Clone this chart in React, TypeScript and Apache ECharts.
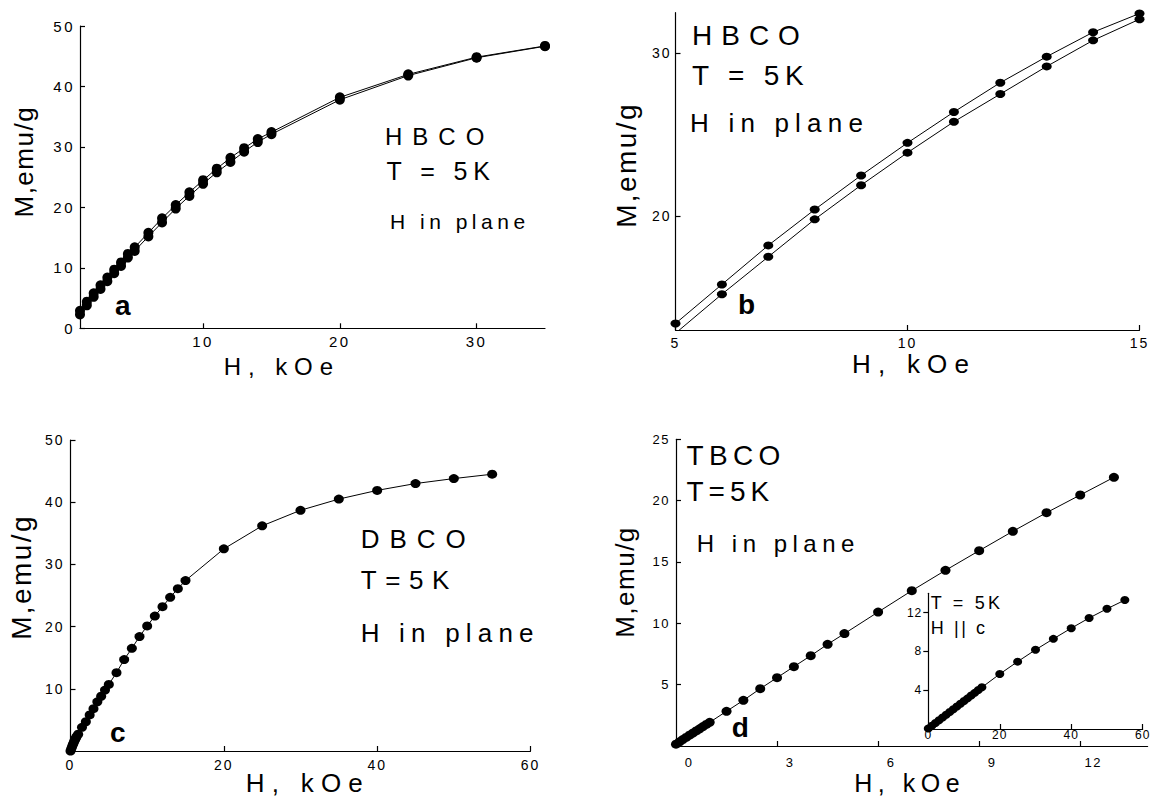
import React, { useEffect, useRef } from "react";
import * as echarts from "echarts";

// ---------- data ----------
const hbcoH = [1, 1.5, 2, 2.5, 3, 3.5, 4, 4.5, 5, 6, 7, 8, 9, 10, 11, 12, 13, 14, 15, 20, 25, 30, 35];
const hbcoUp = [2.9, 4.4, 5.8, 7.1, 8.4, 9.7, 10.9, 12.3, 13.4, 15.8, 18.2, 20.4, 22.5, 24.5, 26.4, 28.2, 29.8, 31.3, 32.45, 38.2, 42.0, 44.85, 46.7];
const hbcoDown = [2.3, 3.8, 5.2, 6.5, 7.8, 9.1, 10.3, 11.7, 12.8, 15.2, 17.5, 19.8, 21.9, 23.9, 25.8, 27.5, 29.2, 30.8, 32.1, 37.8, 41.8, 44.75, 46.65];

const dbcoH = [0, 0.1, 0.2, 0.3, 0.4, 0.5, 0.6, 0.7, 0.8, 1, 1.5, 2, 2.5, 3, 3.5, 4, 4.5, 5, 6, 7, 8, 9, 10, 11, 12, 13, 14, 15, 20, 25, 30, 35, 40, 45, 50, 55];
const dbcoM = [0, 0.35, 0.7, 1.0, 1.3, 1.6, 1.85, 2.1, 2.35, 2.7, 3.8, 4.7, 5.8, 6.8, 7.9, 8.8, 9.8, 10.7, 12.6, 14.7, 16.5, 18.4, 20.1, 21.7, 23.2, 24.7, 26.1, 27.4, 32.5, 36.2, 38.7, 40.5, 41.9, 43.0, 43.8, 44.5];

const tbcoH = [0, 0.1, 0.2, 0.3, 0.4, 0.5, 0.6, 0.7, 0.8, 0.9, 1.0, 1.5, 2, 2.5, 3, 3.5, 4, 4.5, 5, 6, 7, 8, 9, 10, 11, 12, 13];
const tbcoM = [0.15, 0.33, 0.52, 0.7, 0.88, 1.05, 1.23, 1.4, 1.58, 1.76, 1.93, 2.83, 3.72, 4.67, 5.57, 6.47, 7.36, 8.29, 9.16, 10.92, 12.66, 14.32, 15.92, 17.5, 19.02, 20.46, 21.9];

const tbcoCH = [0, 1, 2, 3, 4, 5, 6, 7, 8, 9, 10, 11, 12, 13, 14, 15, 20, 25, 30, 35, 40, 45, 50, 55];
const tbcoCM = [0.05, 0.33, 0.62, 0.9, 1.19, 1.47, 1.75, 2.04, 2.32, 2.6, 2.88, 3.16, 3.45, 3.73, 4.02, 4.3, 5.67, 6.95, 8.17, 9.3, 10.4, 11.45, 12.4, 13.3];

// tick values
const ticksAx = [10, 20, 30];
const ticksAy = [0, 10, 20, 30, 40, 50];
const ticksBx = [5, 10, 15];
const ticksBy = [20, 30];
const ticksCx = [0, 20, 40, 60];
const ticksCy = [10, 20, 30, 40, 50];
const ticksDx = [0, 3, 6, 9, 12];
const ticksDy = [5, 10, 15, 20, 25];
const ticksIx = [0, 20, 40, 60];
const ticksIy = [4, 8, 12];

// ---------- style ----------
const FONT = "'Liberation Sans', Arial, sans-serif";
const BLACK = "#000000";

type Ann = { text: string; x: number; y: number; size: number; sp: number; bold?: boolean; align?: string; rot?: number };

const annotations: Ann[] = [
  // panel a
  { text: "HBCO", x: 385, y: 136.7, size: 24, sp: 10 },
  { text: "T = 5K", x: 386.6, y: 170.8, size: 25, sp: 5.9 },
  { text: "H in plane", x: 390, y: 221.7, size: 21, sp: 4.5 },
  { text: "a", x: 115, y: 305, size: 28, sp: 0, bold: true },
  { text: "H, kOe", x: 278.4, y: 366.7, size: 24, sp: 6.9, align: "center" },
  { text: "M,emu/g", x: 24.1, y: 161.7, size: 26, sp: 1.5, align: "center", rot: Math.PI / 2 },
  // panel b
  { text: "HBCO", x: 692, y: 35, size: 28, sp: 9 },
  { text: "T = 5K", x: 692, y: 75, size: 28, sp: 5.8 },
  { text: "H in plane", x: 690, y: 122.5, size: 26, sp: 6.2 },
  { text: "b", x: 738, y: 304, size: 28, sp: 0, bold: true },
  { text: "H, kOe", x: 910.5, y: 364, size: 26, sp: 7.2, align: "center" },
  { text: "M,emu/g", x: 626.7, y: 165, size: 28, sp: 2.4, align: "center", rot: Math.PI / 2 },
  // panel c
  { text: "DBCO", x: 360.7, y: 539.2, size: 26, sp: 10 },
  { text: "T=5K", x: 360.7, y: 580, size: 26, sp: 8.6 },
  { text: "H in plane", x: 360.7, y: 632.5, size: 26, sp: 6.2 },
  { text: "c", x: 110, y: 732, size: 28, sp: 0, bold: true },
  { text: "H, kOe", x: 304.3, y: 782.5, size: 26, sp: 7.2, align: "center" },
  { text: "M,emu/g", x: 21, y: 577, size: 28, sp: 2.4, align: "center", rot: Math.PI / 2 },
  // panel d
  { text: "TBCO", x: 686.5, y: 455, size: 28, sp: 5.3 },
  { text: "T=5K", x: 686.5, y: 491.7, size: 28, sp: 5 },
  { text: "H in plane", x: 696.8, y: 543.3, size: 24, sp: 5.5 },
  { text: "d", x: 731.7, y: 727, size: 28, sp: 0, bold: true },
  { text: "H, kOe", x: 906.9, y: 782.5, size: 25, sp: 5.5, align: "center" },
  { text: "M,emu/g", x: 625, y: 582, size: 26, sp: 1.5, align: "center", rot: Math.PI / 2 },
  // inset
  { text: "T = 5K", x: 930.7, y: 603.3, size: 18, sp: 3.2 },
  { text: "H || c", x: 930.7, y: 628.3, size: 18, sp: 2.6 },
];

const tickSpacing: Record<number, number> = { 15: 2.5, 14: 2, 13: 1.5, 12: 1 };

function zip(xs: number[], ys: number[]) {
  return xs.map((x, i) => [x, ys[i]]);
}

function makeAxis(grid: number, min: number, max: number, vals: number[], fontSize: number, margin: number, inside: boolean, extraLabel: any = {}) {
  return {
    type: "value",
    gridIndex: grid,
    min,
    max,
    axisLine: { show: true, onZero: false, lineStyle: { color: BLACK, width: 1.2 } },
    axisTick: { show: true, inside, length: 5, customValues: vals, lineStyle: { color: BLACK, width: 1.2 } },
    axisLabel: {
      show: true,
      customValues: vals,
      color: BLACK,
      textBorderWidth: 0,
      fontSize,
      fontFamily: FONT,
      margin,
      ...extraLabel,
    },
    splitLine: { show: false },
  };
}

function lineSeries(idx: number, data: number[][], size: any) {
  return {
    type: "line",
    xAxisIndex: idx,
    yAxisIndex: idx,
    data,
    symbol: "circle",
    symbolSize: size,
    showSymbol: true,
    clip: true,
    silent: true,
    lineStyle: { color: BLACK, width: 1 },
    itemStyle: { color: BLACK },
  };
}

function buildOption() {
  const grids = [
    { left: 80, top: 26, width: 465, height: 302.3 },
    { left: 675.5, top: 12.7, width: 464, height: 317.3 },
    { left: 70.5, top: 440, width: 460, height: 311 },
    { left: 676, top: 439.3, width: 471.6, height: 306.7 },
    { left: 928.3, top: 593.3, width: 214.4, height: 135.7 },
  ].map((g) => ({ ...g, containLabel: false, outerBoundsMode: "none", show: false }));

  const xAxis = [
    makeAxis(0, 1, 35, ticksAx, 15, 6, true),
    makeAxis(1, 5, 15, ticksBx, 14, 6, true),
    makeAxis(2, 0, 60, ticksCx, 14, 7, true),
    makeAxis(3, 0, 14, ticksDx, 13, 10, true, { padding: [0, 0, 0, 26] }),
    makeAxis(4, 0, 60, ticksIx, 12, 0, true),
  ];
  const yAxis = [
    makeAxis(0, 0, 50, ticksAy, 15, 5, true),
    makeAxis(1, 13, 32.5, ticksBy, 14, 4, true),
    makeAxis(2, 0, 50, ticksCy, 14, 6, true),
    makeAxis(3, 0, 25, ticksDy, 13, 6, true),
    makeAxis(4, 0, 14, ticksIy, 12, 6, false),
  ];

  const series = [
    lineSeries(0, zip(hbcoH, hbcoUp), 10),
    lineSeries(0, zip(hbcoH, hbcoDown), 10),
    lineSeries(1, zip(hbcoH, hbcoUp), [10, 8]),
    lineSeries(1, zip(hbcoH, hbcoDown), [10, 8]),
    lineSeries(2, zip(dbcoH, dbcoM), [10, 9]),
    lineSeries(3, zip(tbcoH, tbcoM), [10, 9]),
    lineSeries(4, zip(tbcoCH, tbcoCM), [9, 8]),
  ];

  const graphic = annotations.map((a) => ({
    type: "text",
    x: a.align === "center" && !a.rot ? a.x + a.sp / 2 : a.x,
    y: a.y,
    rotation: a.rot || 0,
    silent: true,
    style: {
      text: a.text,
      fontSize: a.size,
      fontFamily: FONT,
      fontWeight: a.bold ? "bold" : "normal",
      fill: BLACK,
      textAlign: a.align || "left",
      textVerticalAlign: "middle",
      verticalAlign: "middle",
    },
  }));

  return {
    animation: false,
    backgroundColor: "#fff",
    grid: grids,
    xAxis,
    yAxis,
    series,
    graphic,
  };
}

function applySpacing(root: HTMLElement) {
  const map: Record<string, number> = {};
  annotations.forEach((a) => {
    map[a.text + "|" + a.size] = a.sp;
  });
  root.querySelectorAll("text").forEach((t) => {
    const txt = (t.textContent || "").trim();
    const fs = Math.round(parseFloat(getComputedStyle(t).fontSize));
    const key = txt + "|" + fs;
    let sp: number | undefined = map[key];
    if (sp === undefined && /^\d+$/.test(txt)) sp = tickSpacing[fs];
    if (sp !== undefined && sp > 0) (t as SVGTextElement).style.letterSpacing = sp + "px";
  });
}

export default function App() {
  const ref = useRef<HTMLDivElement>(null);
  useEffect(() => {
    if (!ref.current) return;
    const chart = echarts.init(ref.current, null, { renderer: "svg" });
    chart.setOption(buildOption() as any);
    applySpacing(ref.current);
    return () => {
      chart.dispose();
    };
  }, []);
  return (
    <div
      ref={ref}
      style={{ position: "absolute", left: 0, top: 0, width: 1156, height: 796, background: "#fff" }}
    />
  );
}
